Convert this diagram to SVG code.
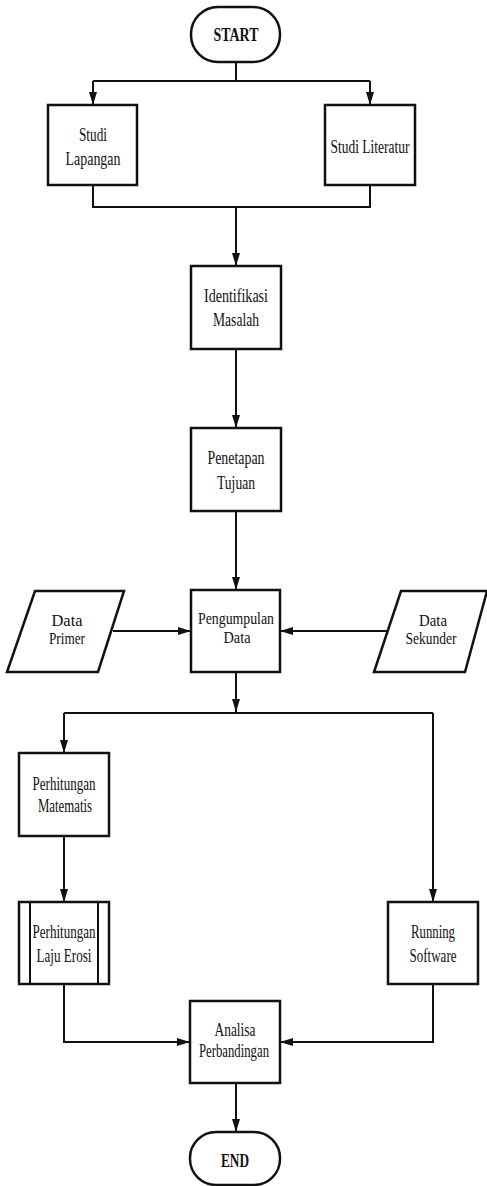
<svg xmlns="http://www.w3.org/2000/svg" width="487" height="1186" viewBox="0 0 487 1186">
<style>
.box{fill:#fff;stroke:#111;stroke-width:2.5}
.ln{fill:none;stroke:#111;stroke-width:2}
.t{font-family:"Liberation Serif","Times New Roman",serif;font-size:18px;text-anchor:middle;fill:#111}
.s{font-size:16px}
.b{font-weight:bold}
</style>
<defs>
<marker id="ah" viewBox="0 0 13 8" refX="13" refY="4" markerWidth="13" markerHeight="8" markerUnits="userSpaceOnUse" orient="auto">
<path d="M0,0 L13,4 L0,8 z" fill="#111"/>
</marker>
</defs>
<rect width="487" height="1186" fill="#fff"/>
<g id="connectors">
<path class="ln" d="M236,62 V81 M93,81 H370"/>
<path class="ln" d="M93,81 V105" marker-end="url(#ah)"/>
<path class="ln" d="M370,81 V105" marker-end="url(#ah)"/>
<path class="ln" d="M93,185 V207 H370 V185"/>
<path class="ln" d="M236,207 V266" marker-end="url(#ah)"/>
<path class="ln" d="M236,349 V428" marker-end="url(#ah)"/>
<path class="ln" d="M236,511 V590" marker-end="url(#ah)"/>
<path class="ln" d="M113,631 H191" marker-end="url(#ah)"/>
<path class="ln" d="M387,631 H280" marker-end="url(#ah)"/>
<path class="ln" d="M236,672 V712" marker-end="url(#ah)"/>
<path class="ln" d="M64,713 H433"/>
<path class="ln" d="M64,713 V753" marker-end="url(#ah)"/>
<path class="ln" d="M433,713 V902" marker-end="url(#ah)"/>
<path class="ln" d="M64,836 V902" marker-end="url(#ah)"/>
<path class="ln" d="M64,984 V1042 H190" marker-end="url(#ah)"/>
<path class="ln" d="M433,984 V1042 H280" marker-end="url(#ah)"/>
<path class="ln" d="M236,1083 V1132" marker-end="url(#ah)"/>
</g>
<g id="start">
<rect class="box" x="191" y="7" width="89" height="55" rx="27" ry="27"/>
<text class="t b" x="236" y="41" textLength="45" lengthAdjust="spacingAndGlyphs">START</text>
</g>
<g id="studi-lapangan">
<rect class="box" x="48" y="105" width="89" height="80"/>
<text class="t" x="93" y="141" textLength="28" lengthAdjust="spacingAndGlyphs">Studi</text>
<text class="t" x="93" y="165" textLength="55" lengthAdjust="spacingAndGlyphs">Lapangan</text>
</g>
<g id="studi-literatur">
<rect class="box" x="325" y="105" width="90" height="80"/>
<text class="t" x="370" y="153" textLength="79" lengthAdjust="spacingAndGlyphs">Studi Literatur</text>
</g>
<g id="identifikasi">
<rect class="box" x="191" y="266" width="90" height="83"/>
<text class="t" x="236" y="302" textLength="64" lengthAdjust="spacingAndGlyphs">Identifikasi</text>
<text class="t" x="236" y="326" textLength="46" lengthAdjust="spacingAndGlyphs">Masalah</text>
</g>
<g id="penetapan">
<rect class="box" x="191" y="428" width="90" height="83"/>
<text class="t" x="236" y="464" textLength="57" lengthAdjust="spacingAndGlyphs">Penetapan</text>
<text class="t" x="236" y="489" textLength="38" lengthAdjust="spacingAndGlyphs">Tujuan</text>
</g>
<g id="data-primer">
<polygon class="box" points="35,591 124,591 98,672 7,672"/>
<text class="t s" x="67" y="626" textLength="31" lengthAdjust="spacingAndGlyphs">Data</text>
<text class="t s" x="67" y="644" textLength="36" lengthAdjust="spacingAndGlyphs">Primer</text>
</g>
<g id="pengumpulan">
<rect class="box" x="191" y="590" width="89" height="82"/>
<text class="t s" x="236" y="624" textLength="76" lengthAdjust="spacingAndGlyphs">Pengumpulan</text>
<text class="t s" x="237" y="643" textLength="27" lengthAdjust="spacingAndGlyphs">Data</text>
</g>
<g id="data-sekunder">
<polygon class="box" points="401,591 487,591 465,672 374,672"/>
<text class="t s" x="433" y="626" textLength="28" lengthAdjust="spacingAndGlyphs">Data</text>
<text class="t s" x="431" y="644" textLength="51" lengthAdjust="spacingAndGlyphs">Sekunder</text>
</g>
<g id="perhitungan-matematis">
<rect class="box" x="19" y="753" width="90" height="83"/>
<text class="t" x="64" y="790" textLength="63" lengthAdjust="spacingAndGlyphs">Perhitungan</text>
<text class="t" x="65" y="812" textLength="54" lengthAdjust="spacingAndGlyphs">Matematis</text>
</g>
<g id="perhitungan-laju-erosi">
<rect class="box" x="19" y="902" width="90" height="82"/>
<line class="ln" x1="30" y1="902" x2="30" y2="984" stroke-width="1.5"/>
<line class="ln" x1="98" y1="902" x2="98" y2="984" stroke-width="1.5"/>
<text class="t" x="64" y="938" textLength="63" lengthAdjust="spacingAndGlyphs">Perhitungan</text>
<text class="t" x="64" y="962" textLength="55" lengthAdjust="spacingAndGlyphs">Laju Erosi</text>
</g>
<g id="running-software">
<rect class="box" x="388" y="902" width="90" height="82"/>
<text class="t" x="433" y="938" textLength="44" lengthAdjust="spacingAndGlyphs">Running</text>
<text class="t" x="433" y="962" textLength="47" lengthAdjust="spacingAndGlyphs">Software</text>
</g>
<g id="analisa">
<rect class="box" x="190" y="1001" width="90" height="82"/>
<text class="t" x="235" y="1036" textLength="41" lengthAdjust="spacingAndGlyphs">Analisa</text>
<text class="t" x="234" y="1057" textLength="70" lengthAdjust="spacingAndGlyphs">Perbandingan</text>
</g>
<g id="end">
<rect class="box" x="190" y="1132" width="90" height="53" rx="26" ry="26"/>
<text class="t b" x="235" y="1167" textLength="28" lengthAdjust="spacingAndGlyphs">END</text>
</g>
</svg>
